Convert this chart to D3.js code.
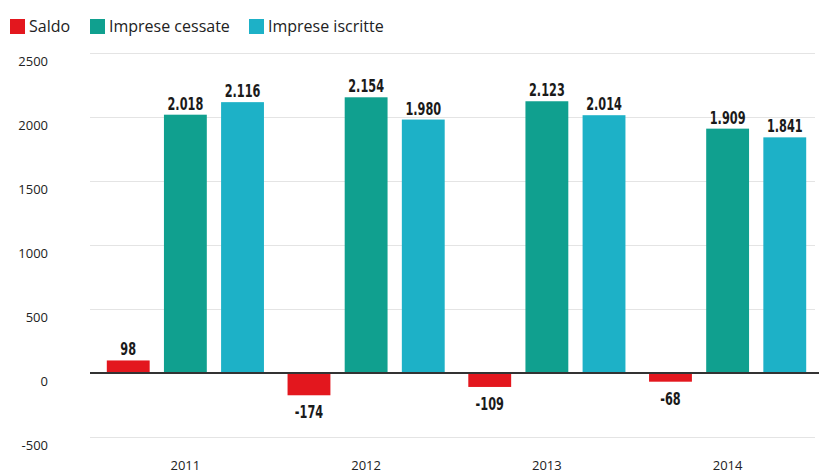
<!DOCTYPE html>
<html>
<head>
<meta charset="utf-8">
<script src="https://cdn.jsdelivr.net/npm/d3@7"></script>
<style>
  html, body { margin: 0; padding: 0; background: #fff; }
  svg { display: block; }
</style>
</head>
<body>
<svg id="chart" width="819" height="474"></svg>
<script>
const years = ["2011", "2012", "2013", "2014"];
const seriesNames = ["Saldo", "Imprese cessate", "Imprese iscritte"];
const saldo = [98, -174, -109, -68];
const cessate = [2018, 2154, 2123, 1909];
const iscritte = [2116, 1980, 2014, 1841];
const yTicks = [-500, 0, 500, 1000, 1500, 2000, 2500];
const colors = ["#e3171e", "#10a08f", "#1db1c7"];

const seriesValues = [saldo, cessate, iscritte];
const fmt = v => {
  if (Math.abs(v) >= 1000) {
    const s = String(Math.abs(v));
    return (v < 0 ? "-" : "") + s.slice(0, s.length - 3) + "." + s.slice(-3);
  }
  return String(v);
};

const svg = d3.select("#chart");

const y = d3.scaleLinear().domain([-500, 2500]).range([437, 53]);
const x0 = d3.scaleBand().domain(years).range([95, 818]).padding(0);
const x1 = d3.scaleBand().domain(seriesNames)
  .range([11.8, x0.bandwidth() - 11.8]).paddingInner(0.25).paddingOuter(0);

// gridlines
svg.append("g").selectAll("line").data(yTicks.filter(t => t !== 0)).join("line")
  .attr("x1", 90).attr("x2", 815)
  .attr("y1", d => Math.round(y(d)) + 0.5).attr("y2", d => Math.round(y(d)) + 0.5)
  .attr("stroke", "#e4e4e4").attr("stroke-width", 1);

// y tick labels
svg.append("g").selectAll("text").data(yTicks).join("text")
  .attr("x", 48).attr("y", d => y(d) + 13)
  .attr("text-anchor", "end")
  .attr("font-family", "'Open Sans', sans-serif")
  .attr("font-size", 13).attr("fill", "#222")
  .text(d => d);

// bars
const groups = svg.append("g").selectAll("g").data(years).join("g")
  .attr("transform", d => `translate(${x0(d)},0)`);

groups.selectAll("rect")
  .data((yr, i) => seriesNames.map((s, j) => ({ s, j, v: seriesValues[j][i] })))
  .join("rect")
  .attr("x", d => x1(d.s))
  .attr("width", x1.bandwidth())
  .attr("y", d => y(Math.max(0, d.v)))
  .attr("height", d => Math.abs(y(d.v) - y(0)))
  .attr("fill", d => colors[d.j]);

groups.selectAll("text.val")
  .data((yr, i) => seriesNames.map((s, j) => ({ s, j, v: seriesValues[j][i] })))
  .join("text")
  .attr("class", "val")
  .attr("transform", d => {
    const tx = x1(d.s) + x1.bandwidth() / 2;
    const ty = d.v >= 0 ? y(d.v) - 5 : y(d.v) + 23;
    return `translate(${tx},${ty}) scale(0.74,1)`;
  })
  .attr("text-anchor", "middle")
  .attr("font-family", "'DejaVu Sans Condensed', 'DejaVu Sans', sans-serif")
  .attr("font-stretch", "condensed")
  .attr("font-weight", "bold")
  .attr("font-size", 17).attr("fill", "#1a1a1a")
  .text(d => fmt(d.v));

// zero line
svg.append("line")
  .attr("x1", 90).attr("x2", 819)
  .attr("y1", y(0)).attr("y2", y(0))
  .attr("stroke", "#333").attr("stroke-width", 2);

// x labels
svg.append("g").selectAll("text").data(years).join("text")
  .attr("x", d => x0(d) + x0.bandwidth() / 2)
  .attr("y", 470)
  .attr("text-anchor", "middle")
  .attr("font-family", "'Open Sans', sans-serif")
  .attr("font-size", 13).attr("fill", "#222")
  .text(d => d);

// legend
const legendX = [10, 90, 249];
const lg = svg.append("g").selectAll("g").data(seriesNames).join("g")
  .attr("transform", (d, i) => `translate(${legendX[i]},19)`);
lg.append("rect").attr("width", 15).attr("height", 15).attr("fill", (d, i) => colors[i]);
lg.append("text").attr("x", 19).attr("y", 13)
  .attr("font-family", "'Open Sans', sans-serif")
  .attr("font-size", 16).attr("fill", "#222")
  .text(d => d);
</script>
</body>
</html>
